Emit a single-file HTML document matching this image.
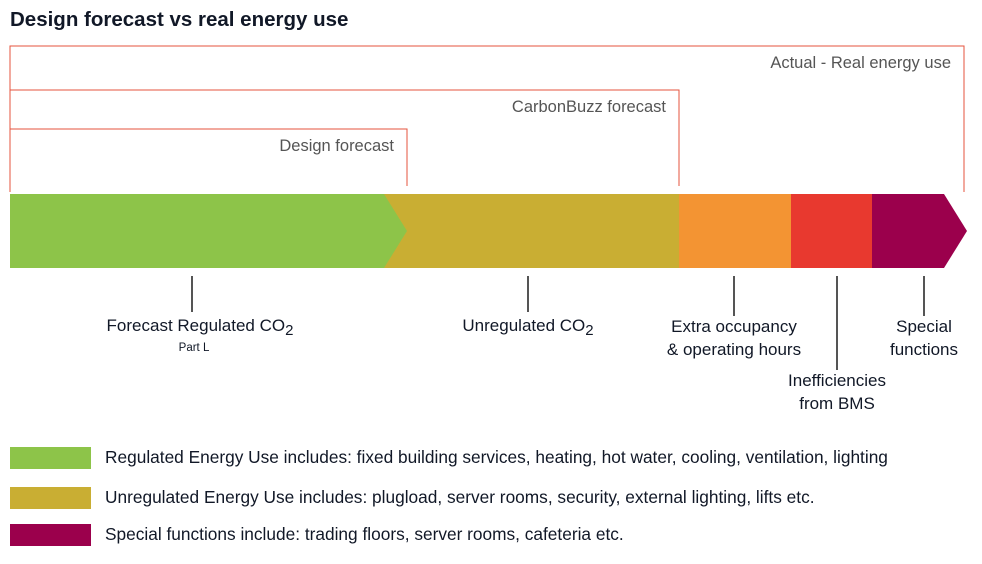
<!DOCTYPE html>
<html><head><meta charset="utf-8"><style>
body{margin:0;background:#fff;width:982px;height:559px;overflow:hidden;font-family:"Liberation Sans",sans-serif}
svg text{font-family:"Liberation Sans",sans-serif;fill:#111827}
</style></head><body>
<svg id="c" width="982" height="559">
<text x="10" y="26" font-size="20.5" font-weight="bold">Design forecast vs real energy use</text>
<g id="g"></g>
</svg>
<script>
const segNames=["Regulated","Unregulated","Extra occupancy","Inefficiencies","Special functions"];
const segValues=[374,295,112,81,72];
const segColors=["#8dc449","#c9ae33","#f39433","#e8392f","#9b004c"];
const bracketLabels=["Design forecast","CarbonBuzz forecast","Actual - Real energy use"];
const bracketSegCount=[1,2,5];
const x0=10,pxPer=1.0,barTop=194,barBot=268,tipW=23;
const X=v=>x0+v*pxPer;
const ns="http://www.w3.org/2000/svg",g=document.getElementById('g');
function mk(t,a){const e=document.createElementNS(ns,t);for(const k in a)e.setAttribute(k,a[k]);g.appendChild(e);return e;}
let cum=[0];segValues.forEach(v=>cum.push(cum[cum.length-1]+v));
const mid=(barTop+barBot)/2;
for(let i=segValues.length-1;i>=0;i--){
 const a=X(cum[i]),b=X(cum[i+1]);let pts;
 if(i==0||i==segValues.length-1) pts=`${a},${barTop} ${b},${barTop} ${b+tipW},${mid} ${b},${barBot} ${a},${barBot}`;
 else pts=`${a},${barTop} ${b},${barTop} ${b},${barBot} ${a},${barBot}`;
 const p=mk('polygon',{points:pts,fill:segColors[i]});
 
 
}
const bTops=[129,90,46],bBot=[186,186,192];
bracketLabels.forEach((l,i)=>{
 let xe=X(cum[bracketSegCount[i]]);if(i==0)xe+=tipW;if(i==2)xe+=tipW-3;
 const p=mk('polyline',{points:`${x0},${bBot[i]} ${x0},${bTops[i]} ${xe},${bTops[i]} ${xe},${bBot[i]}`,fill:'none',stroke:'#e5533d','stroke-width':1});
 
 
 const t=mk('text',{x:xe-13,y:bTops[i]+22,'text-anchor':'end','font-size':16.5});
 t.style.fill='#555';t.textContent=l;
 
 
});
const callX=[192,528,734,837,924],callEnd=[312,312,316,370,316];
const labelDy=[19,19,16,16,16];
const callLines=[["Forecast Regulated CO|2"],["Unregulated CO|2"],["Extra occupancy","& operating hours"],["Inefficiencies","from BMS"],["Special","functions"]];
callX.forEach((cx,i)=>{
 const l=mk('line',{x1:cx,y1:276,x2:cx,y2:callEnd[i],stroke:'#555','stroke-width':2});
 
 
 callLines[i].forEach((s,j)=>{
  const t=mk('text',{x:i==0?200:cx,y:callEnd[i]+labelDy[i]+j*23,'text-anchor':'middle','font-size':17});
  const parts=s.split('|');
  t.appendChild(document.createTextNode(parts[0]));
  if(parts[1]){const ts=document.createElementNS(ns,'tspan');ts.setAttribute('dy','4');ts.setAttribute('font-size','15');ts.textContent=parts[1];t.appendChild(ts);}
  
  
 });
});
const pl=mk('text',{x:194,y:351,'text-anchor':'middle','font-size':11.5});pl.textContent="Part L";


const legText=["Regulated Energy Use includes: fixed building services, heating, hot water, cooling, ventilation, lighting","Unregulated Energy Use includes: plugload, server rooms, security, external lighting, lifts etc.","Special functions include: trading floors, server rooms, cafeteria etc."];
const legColor=[segColors[0],segColors[1],segColors[4]],legY=[447,487,524];
legText.forEach((s,i)=>{
 const r=mk('rect',{x:10,y:legY[i],width:81,height:22,fill:legColor[i]});
 
 
 const t=mk('text',{x:105,y:legY[i]+16,'font-size':17.3,'letter-spacing':'0'});t.textContent=s;
 
 
});
</script>
</body></html>
